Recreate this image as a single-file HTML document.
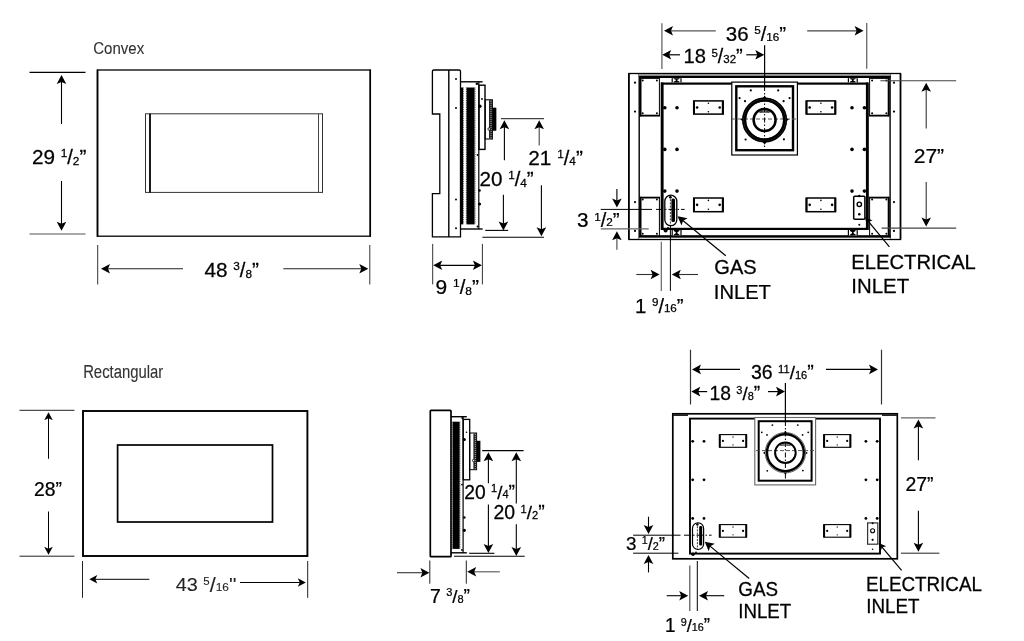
<!DOCTYPE html>
<html lang="en">
<head>
<meta charset="utf-8">
<title>Fireplace dimensions - Convex and Rectangular</title>
<style>
html,body{margin:0;padding:0;background:#fff;}
body{width:1024px;height:641px;overflow:hidden;}
svg{display:block;will-change:transform;}
text{white-space:pre;}
</style>
</head>
<body>
<svg width="1024" height="641" viewBox="0 0 1024 641" role="img" aria-label="Fireplace dimension drawings">
<rect x="0" y="0" width="1024" height="641" fill="#fff"/>
<g id="convex-front">
<text transform="translate(93.24 53.90) scale(1.0152 1.17)" font-size="14.8" fill="#333" stroke="#333" stroke-width="0.1" style="font-family:'Liberation Sans', sans-serif">Convex</text>
<rect x="97.50" y="70.00" width="272.70" height="166.20" fill="none" stroke="#000" stroke-width="1.3"/>
<line x1="97.50" y1="69.60" x2="97.50" y2="236.80" stroke="#000" stroke-width="1.7"/>
<line x1="370.30" y1="69.60" x2="370.30" y2="236.80" stroke="#000" stroke-width="1.5"/>
<rect x="145.50" y="113.80" width="177.00" height="78.60" fill="none" stroke="#333" stroke-width="1.0"/>
<line x1="150.00" y1="113.80" x2="150.00" y2="192.40" stroke="#000" stroke-width="1.8"/>
<line x1="318.50" y1="113.80" x2="318.50" y2="192.40" stroke="#444" stroke-width="1.0"/>
<line x1="29.50" y1="72.40" x2="85.50" y2="72.40" stroke="#000" stroke-width="1.1"/>
<line x1="29.50" y1="234.00" x2="85.50" y2="234.00" stroke="#555" stroke-width="1.1"/>
<line x1="61.50" y1="124.00" x2="61.50" y2="79.00" stroke="#000" stroke-width="1.1"/>
<path d="M61.50 75.00L66.30 84.00L61.50 82.00L56.70 84.00Z" fill="#000"/>
<line x1="61.50" y1="181.00" x2="61.50" y2="226.80" stroke="#000" stroke-width="1.1"/>
<path d="M61.50 230.80L56.70 221.80L61.50 223.80L66.30 221.80Z" fill="#000"/>
<text transform="translate(31.88 164.10) scale(1.0164 1.0)" font-size="20.4" fill="#000" stroke="#000" stroke-width="0.25" style="font-family:'Liberation Sans', sans-serif">29 <tspan font-size="11.63" dy="-6.73">1</tspan><tspan font-size="19.79" dy="6.73">/</tspan><tspan font-size="11.63" dy="0.61">2</tspan><tspan font-size="20.4" dy="-0.61">”</tspan></text>
<line x1="97.70" y1="245.00" x2="97.70" y2="284.50" stroke="#333" stroke-width="1.0"/>
<line x1="369.80" y1="245.00" x2="369.80" y2="284.50" stroke="#333" stroke-width="1.0"/>
<line x1="183.00" y1="268.80" x2="105.00" y2="268.80" stroke="#222" stroke-width="1.1"/>
<path d="M101.00 268.80L110.00 264.00L108.00 268.80L110.00 273.60Z" fill="#000"/>
<line x1="283.30" y1="268.80" x2="364.30" y2="268.80" stroke="#222" stroke-width="1.1"/>
<path d="M368.30 268.80L359.30 273.60L361.30 268.80L359.30 264.00Z" fill="#000"/>
<text transform="translate(204.39 276.80) scale(1.0182 1.0)" font-size="20.4" fill="#000" stroke="#000" stroke-width="0.25" style="font-family:'Liberation Sans', sans-serif">48 <tspan font-size="11.63" dy="-6.73">3</tspan><tspan font-size="19.79" dy="6.73">/</tspan><tspan font-size="11.63" dy="1.02">8</tspan><tspan font-size="20.4" dy="-1.02">”</tspan></text>
</g>
<g id="convex-side">
<path d="M433.9 70 H459 Q460.5 70 460.5 71.5 V236.9 H432.4 V193.6 H439.8 V114 H432.4 V71.5 Q432.4 70 433.9 70 Z" fill="none" stroke="#000" stroke-width="1.3"/>
<line x1="448.80" y1="70.00" x2="448.80" y2="236.90" stroke="#000" stroke-width="1.4"/>
<circle cx="456.00" cy="79.00" r="1.0" fill="#000"/>
<circle cx="456.00" cy="108.00" r="1.0" fill="#000"/>
<circle cx="456.00" cy="199.40" r="1.0" fill="#000"/>
<circle cx="456.00" cy="228.30" r="1.0" fill="#000"/>
<line x1="460.50" y1="81.80" x2="482.60" y2="81.80" stroke="#000" stroke-width="1.4"/>
<line x1="460.50" y1="229.00" x2="482.60" y2="229.00" stroke="#000" stroke-width="1.4"/>
<line x1="478.80" y1="81.80" x2="478.80" y2="229.00" stroke="#000" stroke-width="1.2"/>
<rect x="460.60" y="87.50" width="2.50" height="136.90" fill="#000"/>
<line x1="463.50" y1="87.50" x2="463.50" y2="224.40" stroke="#222" stroke-width="0.7" stroke-dasharray="0.9 0.9"/>
<line x1="466.40" y1="87.50" x2="466.40" y2="224.40" stroke="#000" stroke-width="0.8" stroke-dasharray="0.9 0.9"/>
<line x1="475.20" y1="87.50" x2="475.20" y2="224.40" stroke="#000" stroke-width="0.6" stroke-dasharray="0.9 0.9"/>
<rect x="466.60" y="87.50" width="8.00" height="136.90" fill="#000"/>
<circle cx="476.90" cy="83.70" r="1.3" fill="#000"/>
<circle cx="477.50" cy="155.00" r="0.9" fill="#000"/>
<circle cx="477.50" cy="226.50" r="0.9" fill="#000"/>
<circle cx="479.90" cy="106.20" r="1.7" fill="#000"/>
<circle cx="479.50" cy="190.50" r="1.3" fill="#000"/>
<circle cx="479.50" cy="204.00" r="1.6" fill="#000"/>
<rect x="479.00" y="85.20" width="6.00" height="64.20" fill="none" stroke="#000" stroke-width="1.4"/>
<circle cx="482.00" cy="99.00" r="0.9" fill="#000"/>
<rect x="485.20" y="99.80" width="7.20" height="39.20" fill="none" stroke="#000" stroke-width="1.1"/>
<rect x="489.40" y="107.80" width="6.80" height="22.70" fill="#000"/>
<rect x="489.00" y="100.20" width="3.60" height="38.40" fill="#222"/>
<line x1="491.00" y1="101.00" x2="491.00" y2="138.00" stroke="#ccc" stroke-width="1.0" stroke-dasharray="0.8 1.2"/>
<rect x="492.60" y="107.80" width="3.60" height="22.70" fill="#000"/>
<circle cx="489.20" cy="129.00" r="1.3" fill="#fff" stroke="#000" stroke-width="0.8"/>
<line x1="501.00" y1="118.70" x2="544.00" y2="118.70" stroke="#444" stroke-width="1.2"/>
<line x1="504.40" y1="160.30" x2="504.40" y2="124.30" stroke="#000" stroke-width="1.1"/>
<path d="M504.40 120.30L509.20 129.30L504.40 127.30L499.60 129.30Z" fill="#000"/>
<line x1="539.20" y1="145.50" x2="539.20" y2="124.30" stroke="#444" stroke-width="1.1"/>
<path d="M539.20 120.30L544.00 129.30L539.20 127.30L534.40 129.30Z" fill="#000"/>
<line x1="503.40" y1="194.70" x2="503.40" y2="226.60" stroke="#000" stroke-width="1.1"/>
<path d="M503.40 230.60L498.60 221.60L503.40 223.60L508.20 221.60Z" fill="#000"/>
<line x1="541.40" y1="185.30" x2="541.40" y2="232.20" stroke="#000" stroke-width="1.1"/>
<path d="M541.40 236.20L536.60 227.20L541.40 229.20L546.20 227.20Z" fill="#000"/>
<line x1="485.20" y1="230.40" x2="508.20" y2="230.40" stroke="#000" stroke-width="1.1"/>
<line x1="482.40" y1="237.30" x2="544.00" y2="237.30" stroke="#000" stroke-width="1.1"/>
<text transform="translate(479.39 186.10) scale(1.0145 1.0)" font-size="20.4" fill="#000" stroke="#000" stroke-width="0.25" style="font-family:'Liberation Sans', sans-serif">20 <tspan font-size="11.63" dy="-6.73">1</tspan><tspan font-size="19.79" dy="6.73">/</tspan><tspan font-size="11.63" dy="0.41">4</tspan><tspan font-size="20.4" dy="-0.41">”</tspan></text>
<text transform="translate(528.28 164.50) scale(1.0184 1.0)" font-size="20.4" fill="#000" stroke="#000" stroke-width="0.25" style="font-family:'Liberation Sans', sans-serif">21 <tspan font-size="11.63" dy="-6.73">1</tspan><tspan font-size="19.79" dy="6.73">/</tspan><tspan font-size="11.63" dy="0.41">4</tspan><tspan font-size="20.4" dy="-0.41">”</tspan></text>
<line x1="432.70" y1="243.90" x2="432.70" y2="284.40" stroke="#333" stroke-width="1.0"/>
<line x1="482.40" y1="243.90" x2="482.40" y2="284.40" stroke="#333" stroke-width="1.0"/>
<line x1="436.00" y1="265.30" x2="479.00" y2="265.30" stroke="#000" stroke-width="1.2"/>
<path d="M433.20 265.30L442.20 260.50L440.20 265.30L442.20 270.10Z" fill="#000"/>
<path d="M481.90 265.30L472.90 270.10L474.90 265.30L472.90 260.50Z" fill="#000"/>
<text transform="translate(435.57 293.70) scale(1.0272 1.0)" font-size="20.4" fill="#000" stroke="#000" stroke-width="0.25" style="font-family:'Liberation Sans', sans-serif">9 <tspan font-size="11.63" dy="-6.73">1</tspan><tspan font-size="19.79" dy="6.73">/</tspan><tspan font-size="11.63" dy="1.22">8</tspan><tspan font-size="20.4" dy="-1.22">”</tspan></text>
</g>
<g id="convex-back">
<rect x="628.85" y="73.50" width="271.65" height="166.00" fill="none" stroke="#000" stroke-width="1.3"/>
<line x1="628.85" y1="73.50" x2="628.85" y2="239.50" stroke="#000" stroke-width="1.6"/>
<line x1="900.50" y1="73.50" x2="900.50" y2="239.50" stroke="#000" stroke-width="1.6"/>
<line x1="639.20" y1="73.50" x2="639.20" y2="239.50" stroke="#000" stroke-width="1.4"/>
<line x1="890.10" y1="73.50" x2="890.10" y2="239.50" stroke="#000" stroke-width="1.4"/>
<rect x="638.90" y="74.00" width="251.60" height="2.00" fill="#999"/>
<rect x="638.90" y="75.90" width="251.60" height="2.10" fill="#000"/>
<rect x="638.90" y="235.20" width="251.60" height="2.60" fill="#000"/>
<rect x="638.90" y="237.80" width="251.60" height="1.10" fill="#ddd"/>
<rect x="640.20" y="78.40" width="19.20" height="37.20" fill="none" stroke="#000" stroke-width="1.0"/>
<circle cx="642.70" cy="80.40" r="1.0" fill="#000"/>
<circle cx="642.70" cy="113.20" r="1.0" fill="#000"/>
<circle cx="656.90" cy="80.40" r="1.0" fill="#000"/>
<circle cx="656.90" cy="113.20" r="1.0" fill="#000"/>
<rect x="640.20" y="197.50" width="19.20" height="38.70" fill="none" stroke="#000" stroke-width="1.0"/>
<circle cx="642.70" cy="199.50" r="1.0" fill="#000"/>
<circle cx="642.70" cy="233.80" r="1.0" fill="#000"/>
<circle cx="656.90" cy="199.50" r="1.0" fill="#000"/>
<circle cx="656.90" cy="233.80" r="1.0" fill="#000"/>
<rect x="869.60" y="78.40" width="19.30" height="37.20" fill="none" stroke="#000" stroke-width="1.0"/>
<circle cx="872.10" cy="80.40" r="1.0" fill="#000"/>
<circle cx="872.10" cy="113.20" r="1.0" fill="#000"/>
<circle cx="886.40" cy="80.40" r="1.0" fill="#000"/>
<circle cx="886.40" cy="113.20" r="1.0" fill="#000"/>
<rect x="869.60" y="197.50" width="19.30" height="38.70" fill="none" stroke="#000" stroke-width="1.0"/>
<circle cx="872.10" cy="199.50" r="1.0" fill="#000"/>
<circle cx="872.10" cy="233.80" r="1.0" fill="#000"/>
<circle cx="886.40" cy="199.50" r="1.0" fill="#000"/>
<circle cx="886.40" cy="233.80" r="1.0" fill="#000"/>
<line x1="640.60" y1="78.00" x2="640.60" y2="116.40" stroke="#000" stroke-width="1.8"/>
<line x1="888.60" y1="78.00" x2="888.60" y2="116.40" stroke="#000" stroke-width="1.8"/>
<line x1="640.60" y1="196.80" x2="640.60" y2="236.00" stroke="#000" stroke-width="1.8"/>
<line x1="888.60" y1="196.80" x2="888.60" y2="236.00" stroke="#000" stroke-width="1.8"/>
<line x1="640.00" y1="115.60" x2="660.00" y2="115.60" stroke="#000" stroke-width="1.8"/>
<line x1="869.00" y1="115.60" x2="889.00" y2="115.60" stroke="#000" stroke-width="1.8"/>
<line x1="640.00" y1="197.60" x2="660.00" y2="197.60" stroke="#000" stroke-width="1.8"/>
<line x1="869.00" y1="197.60" x2="889.00" y2="197.60" stroke="#000" stroke-width="1.8"/>
<circle cx="635.00" cy="82.70" r="1.1" fill="#000"/>
<circle cx="635.00" cy="111.60" r="1.1" fill="#000"/>
<circle cx="635.00" cy="202.10" r="1.1" fill="#000"/>
<circle cx="635.00" cy="230.90" r="1.1" fill="#000"/>
<circle cx="894.00" cy="82.70" r="1.1" fill="#000"/>
<circle cx="894.00" cy="111.60" r="1.1" fill="#000"/>
<circle cx="894.00" cy="202.10" r="1.1" fill="#000"/>
<circle cx="894.00" cy="230.90" r="1.1" fill="#000"/>
<rect x="662.10" y="83.60" width="205.20" height="145.30" fill="none" stroke="#000" stroke-width="2.2"/>
<line x1="662.10" y1="82.50" x2="662.10" y2="230.00" stroke="#000" stroke-width="2.8"/>
<line x1="867.30" y1="82.50" x2="867.30" y2="230.00" stroke="#000" stroke-width="2.8"/>
<rect x="671.60" y="78.20" width="10.00" height="4.20" fill="#000"/>
<rect x="672.80" y="78.20" width="7.60" height="4.20" fill="#fff"/>
<path d="M673.80 78.20 L679.40 78.20 L679.40 79.10 L677.40 79.80 L677.40 80.80 L679.40 81.50 L679.40 82.40 L673.80 82.40 L673.80 81.50 L675.80 80.80 L675.80 79.80 L673.80 79.10 Z" fill="#000"/>
<rect x="847.80" y="78.20" width="10.00" height="4.20" fill="#000"/>
<rect x="849.00" y="78.20" width="7.60" height="4.20" fill="#fff"/>
<path d="M850.00 78.20 L855.60 78.20 L855.60 79.10 L853.60 79.80 L853.60 80.80 L855.60 81.50 L855.60 82.40 L850.00 82.40 L850.00 81.50 L852.00 80.80 L852.00 79.80 L850.00 79.10 Z" fill="#000"/>
<rect x="671.60" y="230.00" width="10.00" height="5.40" fill="#000"/>
<rect x="672.80" y="230.00" width="7.60" height="5.40" fill="#fff"/>
<path d="M673.80 230.00 L679.40 230.00 L679.40 230.90 L677.40 232.20 L677.40 233.20 L679.40 234.50 L679.40 235.40 L673.80 235.40 L673.80 234.50 L675.80 233.20 L675.80 232.20 L673.80 230.90 Z" fill="#000"/>
<rect x="847.80" y="230.00" width="10.00" height="5.40" fill="#000"/>
<rect x="849.00" y="230.00" width="7.60" height="5.40" fill="#fff"/>
<path d="M850.00 230.00 L855.60 230.00 L855.60 230.90 L853.60 232.20 L853.60 233.20 L855.60 234.50 L855.60 235.40 L850.00 235.40 L850.00 234.50 L852.00 233.20 L852.00 232.20 L850.00 230.90 Z" fill="#000"/>
<circle cx="664.80" cy="107.80" r="1.8" fill="#000"/>
<circle cx="677.00" cy="107.80" r="1.8" fill="#000"/>
<circle cx="852.00" cy="107.80" r="1.8" fill="#000"/>
<circle cx="864.40" cy="107.80" r="1.8" fill="#000"/>
<circle cx="664.80" cy="149.40" r="1.8" fill="#000"/>
<circle cx="677.00" cy="149.40" r="1.8" fill="#000"/>
<circle cx="852.00" cy="149.40" r="1.8" fill="#000"/>
<circle cx="864.40" cy="149.40" r="1.8" fill="#000"/>
<circle cx="664.80" cy="191.10" r="1.8" fill="#000"/>
<circle cx="677.00" cy="191.10" r="1.8" fill="#000"/>
<circle cx="852.00" cy="191.10" r="1.8" fill="#000"/>
<circle cx="864.40" cy="191.10" r="1.8" fill="#000"/>
<rect x="693.70" y="100.90" width="29.40" height="13.20" fill="none" stroke="#000" stroke-width="1.5"/>
<line x1="694.00" y1="100.90" x2="694.00" y2="114.10" stroke="#000" stroke-width="2.0"/>
<line x1="722.80" y1="100.90" x2="722.80" y2="114.10" stroke="#000" stroke-width="2.0"/>
<circle cx="697.10" cy="107.50" r="1.3" fill="#000"/>
<circle cx="719.70" cy="107.50" r="1.3" fill="#000"/>
<circle cx="708.40" cy="103.30" r="0.8" fill="#000"/>
<circle cx="708.40" cy="111.70" r="0.8" fill="#000"/>
<rect x="693.70" y="198.00" width="29.40" height="13.70" fill="none" stroke="#000" stroke-width="1.5"/>
<line x1="694.00" y1="198.00" x2="694.00" y2="211.70" stroke="#000" stroke-width="2.0"/>
<line x1="722.80" y1="198.00" x2="722.80" y2="211.70" stroke="#000" stroke-width="2.0"/>
<circle cx="697.10" cy="204.85" r="1.3" fill="#000"/>
<circle cx="719.70" cy="204.85" r="1.3" fill="#000"/>
<circle cx="708.40" cy="200.40" r="0.8" fill="#000"/>
<circle cx="708.40" cy="209.30" r="0.8" fill="#000"/>
<rect x="806.30" y="100.90" width="29.20" height="13.20" fill="none" stroke="#000" stroke-width="1.5"/>
<line x1="806.60" y1="100.90" x2="806.60" y2="114.10" stroke="#000" stroke-width="2.0"/>
<line x1="835.20" y1="100.90" x2="835.20" y2="114.10" stroke="#000" stroke-width="2.0"/>
<circle cx="809.70" cy="107.50" r="1.3" fill="#000"/>
<circle cx="832.10" cy="107.50" r="1.3" fill="#000"/>
<circle cx="820.90" cy="103.30" r="0.8" fill="#000"/>
<circle cx="820.90" cy="111.70" r="0.8" fill="#000"/>
<rect x="806.30" y="198.00" width="29.20" height="13.70" fill="none" stroke="#000" stroke-width="1.5"/>
<line x1="806.60" y1="198.00" x2="806.60" y2="211.70" stroke="#000" stroke-width="2.0"/>
<line x1="835.20" y1="198.00" x2="835.20" y2="211.70" stroke="#000" stroke-width="2.0"/>
<circle cx="809.70" cy="204.85" r="1.3" fill="#000"/>
<circle cx="832.10" cy="204.85" r="1.3" fill="#000"/>
<circle cx="820.90" cy="200.40" r="0.8" fill="#000"/>
<circle cx="820.90" cy="209.30" r="0.8" fill="#000"/>
<rect x="731.80" y="82.10" width="65.60" height="72.90" fill="#fff" stroke="#000" stroke-width="1.2"/>
<rect x="736.30" y="86.30" width="56.70" height="63.90" fill="none" stroke="#000" stroke-width="2.4"/>
<line x1="732.00" y1="119.00" x2="797.00" y2="119.00" stroke="#555" stroke-width="1.0" stroke-dasharray="4 2"/>
<circle cx="764.60" cy="120.00" r="20.4" fill="none" stroke="#444" stroke-width="4.2"/>
<circle cx="764.60" cy="120.00" r="21.7" fill="none" stroke="#000" stroke-width="1.4"/>
<circle cx="764.60" cy="120.00" r="19.6" fill="none" stroke="#000" stroke-width="2.2"/>
<circle cx="764.60" cy="120.00" r="11.0" fill="none" stroke="#000" stroke-width="2.5"/>
<line x1="764.60" y1="86.00" x2="764.60" y2="151.00" stroke="#000" stroke-width="1.0" stroke-dasharray="5 2 1.5 2"/>
<path d="M740.40 119.60L742.80 117.90L742.80 119.60L742.80 121.30Z" fill="#000"/>
<path d="M788.80 119.60L786.40 121.30L786.40 119.60L786.40 117.90Z" fill="#000"/>
<path d="M764.60 95.40L766.40 98.20L764.60 98.20L762.80 98.20Z" fill="#000"/>
<path d="M764.60 144.80L762.80 142.00L764.60 142.00L766.40 142.00Z" fill="#000"/>
<path d="M759.6 112.2 Q764.5 109.2 769.4 112.2 Z" fill="none" stroke="#000" stroke-width="0.8"/>
<circle cx="750.80" cy="90.40" r="1.1" fill="#000"/>
<circle cx="778.20" cy="90.40" r="1.1" fill="#000"/>
<circle cx="739.60" cy="98.10" r="1.1" fill="#000"/>
<circle cx="789.60" cy="98.10" r="1.1" fill="#000"/>
<circle cx="745.00" cy="101.20" r="1.1" fill="#000"/>
<circle cx="783.60" cy="101.20" r="1.1" fill="#000"/>
<circle cx="745.60" cy="139.50" r="1.1" fill="#000"/>
<circle cx="783.90" cy="139.30" r="1.1" fill="#000"/>
<line x1="764.60" y1="45.30" x2="764.60" y2="87.00" stroke="#000" stroke-width="1.2"/>
<circle cx="665.60" cy="230.60" r="2.0" fill="#000"/>
<circle cx="668.00" cy="228.00" r="1.0" fill="#000"/>
<rect x="664.80" y="195.20" width="12.00" height="30.50" fill="none" stroke="#000" stroke-width="1.3" rx="6"/>
<rect x="671.40" y="198.60" width="3.60" height="23.40" fill="#000" rx="1.5"/>
<line x1="670.40" y1="196.00" x2="670.40" y2="225.00" stroke="#222" stroke-width="0.9" stroke-dasharray="2 1.2"/>
<circle cx="670.40" cy="197.30" r="1.4" fill="#000"/>
<rect x="853.70" y="196.30" width="11.20" height="23.00" fill="none" stroke="#000" stroke-width="1.5" rx="1"/>
<circle cx="859.30" cy="204.30" r="2.2" fill="none" stroke="#000" stroke-width="1.4"/>
<circle cx="859.30" cy="214.20" r="1.3" fill="#000"/>
<circle cx="859.30" cy="196.00" r="1.2" fill="#000"/>
<circle cx="859.30" cy="224.70" r="1.0" fill="#000"/>
<line x1="661.90" y1="23.30" x2="661.90" y2="69.00" stroke="#666" stroke-width="1.3"/>
<line x1="866.70" y1="23.10" x2="866.70" y2="68.80" stroke="#666" stroke-width="1.3"/>
<line x1="715.80" y1="30.80" x2="668.00" y2="30.80" stroke="#555" stroke-width="1.2"/>
<path d="M664.00 30.80L673.00 26.00L671.00 30.80L673.00 35.60Z" fill="#000"/>
<line x1="807.20" y1="30.80" x2="859.60" y2="30.80" stroke="#444" stroke-width="1.2"/>
<path d="M863.60 30.80L854.60 35.60L856.60 30.80L854.60 26.00Z" fill="#000"/>
<text transform="translate(725.75 41.20) scale(1.0051 1.0)" font-size="20.4" fill="#000" stroke="#000" stroke-width="0.25" style="font-family:'Liberation Sans', sans-serif">36 <tspan font-size="11.63" dy="-6.73">5</tspan><tspan font-size="19.79" dy="6.73">/</tspan><tspan font-size="11.63" dy="-0.41">16</tspan><tspan font-size="20.4" dy="0.41">”</tspan></text>
<line x1="680.00" y1="54.80" x2="666.20" y2="54.80" stroke="#000" stroke-width="1.2"/>
<path d="M662.20 54.80L671.20 50.00L669.20 54.80L671.20 59.60Z" fill="#000"/>
<line x1="746.30" y1="54.80" x2="760.30" y2="54.80" stroke="#000" stroke-width="1.2"/>
<path d="M764.30 54.80L755.30 59.60L757.30 54.80L755.30 50.00Z" fill="#000"/>
<text transform="translate(683.42 63.40) scale(0.9887 1.0)" font-size="20.4" fill="#000" stroke="#000" stroke-width="0.25" style="font-family:'Liberation Sans', sans-serif">18 <tspan font-size="11.63" dy="-6.73">5</tspan><tspan font-size="19.79" dy="6.73">/</tspan><tspan font-size="11.63" dy="-0.2">32</tspan><tspan font-size="20.4" dy="0.2">”</tspan></text>
<line x1="880.40" y1="80.80" x2="956.20" y2="80.80" stroke="#444" stroke-width="1.1"/>
<line x1="881.60" y1="228.10" x2="956.20" y2="228.10" stroke="#444" stroke-width="1.1"/>
<line x1="926.20" y1="128.40" x2="926.20" y2="86.80" stroke="#333" stroke-width="1.1"/>
<path d="M926.20 82.80L931.00 91.80L926.20 89.80L921.40 91.80Z" fill="#000"/>
<line x1="926.20" y1="182.00" x2="926.20" y2="222.60" stroke="#333" stroke-width="1.1"/>
<path d="M926.20 226.60L921.40 217.60L926.20 219.60L931.00 217.60Z" fill="#000"/>
<text transform="translate(913.68 163.40) scale(1.0214 1.0)" font-size="20.6" fill="#000" stroke="#000" stroke-width="0.25" style="font-family:'Liberation Sans', sans-serif">27”</text>
<line x1="600.70" y1="209.40" x2="652.00" y2="209.40" stroke="#000" stroke-width="1.0"/>
<line x1="656.00" y1="209.40" x2="684.60" y2="209.40" stroke="#000" stroke-width="1.0" stroke-dasharray="7 2 1.5 2"/>
<line x1="600.70" y1="228.90" x2="648.70" y2="228.90" stroke="#666" stroke-width="1.1"/>
<line x1="616.90" y1="189.00" x2="616.90" y2="203.60" stroke="#000" stroke-width="1.1"/>
<path d="M616.90 207.60L612.10 198.60L616.90 200.60L621.70 198.60Z" fill="#000"/>
<line x1="616.90" y1="249.70" x2="616.90" y2="235.20" stroke="#444" stroke-width="1.1"/>
<path d="M616.90 231.20L621.70 240.20L616.90 238.20L612.10 240.20Z" fill="#000"/>
<text transform="translate(576.94 227.30) scale(1.0110 1.0)" font-size="20.4" fill="#000" stroke="#000" stroke-width="0.25" style="font-family:'Liberation Sans', sans-serif">3 <tspan font-size="11.63" dy="-6.73">1</tspan><tspan font-size="19.79" dy="6.73">/</tspan><tspan font-size="11.63" dy="-0.82">2</tspan><tspan font-size="20.4" dy="0.82">”</tspan></text>
<line x1="661.30" y1="241.70" x2="661.30" y2="290.90" stroke="#666" stroke-width="1.2"/>
<line x1="670.40" y1="226.00" x2="670.40" y2="290.90" stroke="#000" stroke-width="1.0"/>
<line x1="636.30" y1="274.50" x2="655.60" y2="274.50" stroke="#333" stroke-width="1.1"/>
<path d="M659.60 274.50L650.60 279.30L652.60 274.50L650.60 269.70Z" fill="#000"/>
<line x1="698.00" y1="274.50" x2="675.80" y2="274.50" stroke="#333" stroke-width="1.1"/>
<path d="M671.80 274.50L680.80 269.70L678.80 274.50L680.80 279.30Z" fill="#000"/>
<text transform="translate(634.90 313.10) scale(1.0000 1.0)" font-size="20.4" fill="#000" stroke="#000" stroke-width="0.25" style="font-family:'Liberation Sans', sans-serif">1 <tspan font-size="11.63" dy="-6.73">9</tspan><tspan font-size="19.79" dy="6.73">/</tspan><tspan font-size="11.63" dy="-1.43">16</tspan><tspan font-size="20.4" dy="1.43">”</tspan></text>
<line x1="725.80" y1="255.80" x2="680.69" y2="218.74" stroke="#000" stroke-width="1.2"/>
<path d="M677.60 216.20L687.60 218.20L683.01 220.64L681.51 225.62Z" fill="#000"/>
<text transform="translate(714.32 274.10) scale(0.9829 1.0)" font-size="20.4" fill="#000" stroke="#000" stroke-width="0.25" style="font-family:'Liberation Sans', sans-serif">GAS</text>
<text transform="translate(713.82 298.90) scale(0.9882 1.0)" font-size="20.4" fill="#000" stroke="#000" stroke-width="0.25" style="font-family:'Liberation Sans', sans-serif">INLET</text>
<line x1="889.40" y1="246.90" x2="867.54" y2="220.29" stroke="#000" stroke-width="1.2"/>
<path d="M865.00 217.20L872.66 220.61L868.49 221.45L866.86 225.38Z" fill="#000"/>
<text transform="translate(851.36 268.90) scale(0.9947 1.0)" font-size="20.3" fill="#000" stroke="#000" stroke-width="0.25" style="font-family:'Liberation Sans', sans-serif">ELECTRICAL</text>
<text transform="translate(851.34 293.10) scale(1.0045 1.0)" font-size="20.3" fill="#000" stroke="#000" stroke-width="0.25" style="font-family:'Liberation Sans', sans-serif">INLET</text>
</g>
<g id="rect-front">
<text transform="translate(83.14 377.50) scale(1.0045 1.18)" font-size="14.8" fill="#333" stroke="#333" stroke-width="0.1" style="font-family:'Liberation Sans', sans-serif">Rectangular</text>
<rect x="83.00" y="411.00" width="224.40" height="145.00" fill="none" stroke="#000" stroke-width="1.9"/>
<rect x="117.60" y="445.00" width="154.90" height="77.00" fill="none" stroke="#000" stroke-width="1.7"/>
<line x1="19.50" y1="410.30" x2="74.50" y2="410.30" stroke="#222" stroke-width="1.0"/>
<line x1="19.50" y1="556.20" x2="74.50" y2="556.20" stroke="#222" stroke-width="1.0"/>
<line x1="48.50" y1="458.80" x2="48.50" y2="416.20" stroke="#000" stroke-width="1.0"/>
<path d="M48.50 412.20L52.80 420.20L48.50 418.20L44.20 420.20Z" fill="#000"/>
<line x1="48.50" y1="511.50" x2="48.50" y2="550.80" stroke="#000" stroke-width="1.0"/>
<path d="M48.50 554.80L44.20 546.80L48.50 548.80L52.80 546.80Z" fill="#000"/>
<text transform="translate(34.10 496.10) scale(1.0019 1.0)" font-size="19.3" fill="#000" stroke="#000" stroke-width="0.25" style="font-family:'Liberation Sans', sans-serif">28”</text>
<line x1="82.50" y1="561.00" x2="82.50" y2="597.80" stroke="#222" stroke-width="1.0"/>
<line x1="307.70" y1="561.00" x2="307.70" y2="597.80" stroke="#222" stroke-width="1.0"/>
<line x1="149.30" y1="579.30" x2="93.30" y2="579.30" stroke="#000" stroke-width="1.0"/>
<path d="M89.30 579.30L97.30 575.00L95.30 579.30L97.30 583.60Z" fill="#000"/>
<line x1="240.00" y1="582.50" x2="301.80" y2="582.50" stroke="#000" stroke-width="1.0"/>
<path d="M305.80 582.50L297.80 586.80L299.80 582.50L297.80 578.20Z" fill="#000"/>
<text transform="translate(175.75 591.00) scale(1.1014 1.0)" font-size="18.0" fill="#222" stroke="#222" stroke-width="0.1" style="font-family:'Liberation Sans', sans-serif">43 <tspan font-size="10.4" dy="-5.7">5</tspan><tspan font-size="19.6" dy="7.1">/</tspan><tspan font-size="10.8" dy="-1.4">16</tspan><tspan font-size="18" dy="0">''</tspan></text>
</g>
<g id="rect-side">
<rect x="430.30" y="410.30" width="20.70" height="146.40" fill="none" stroke="#000" stroke-width="1.7" rx="0.7"/>
<line x1="451.00" y1="416.70" x2="466.80" y2="416.70" stroke="#000" stroke-width="1.4"/>
<line x1="451.00" y1="552.80" x2="466.80" y2="552.80" stroke="#000" stroke-width="1.4"/>
<line x1="463.10" y1="416.70" x2="463.10" y2="552.80" stroke="#000" stroke-width="1.2"/>
<rect x="452.60" y="421.70" width="7.00" height="127.20" fill="#000"/>
<line x1="452.00" y1="421.70" x2="452.00" y2="548.90" stroke="#000" stroke-width="0.8" stroke-dasharray="0.9 0.9"/>
<line x1="460.00" y1="421.70" x2="460.00" y2="548.90" stroke="#000" stroke-width="0.6" stroke-dasharray="0.9 0.9"/>
<circle cx="462.20" cy="418.00" r="0.9" fill="#000"/>
<circle cx="462.00" cy="484.60" r="0.9" fill="#000"/>
<circle cx="462.00" cy="550.00" r="0.9" fill="#000"/>
<circle cx="464.30" cy="439.50" r="1.6" fill="#000"/>
<circle cx="464.30" cy="517.50" r="1.3" fill="#000"/>
<circle cx="464.30" cy="530.30" r="1.6" fill="#000"/>
<rect x="463.20" y="419.40" width="6.50" height="60.40" fill="none" stroke="#000" stroke-width="1.3"/>
<circle cx="466.50" cy="432.20" r="0.8" fill="#000"/>
<rect x="469.70" y="433.00" width="6.90" height="36.70" fill="none" stroke="#000" stroke-width="1.0"/>
<rect x="473.40" y="433.40" width="3.40" height="36.00" fill="#222"/>
<line x1="475.30" y1="434.00" x2="475.30" y2="469.00" stroke="#ccc" stroke-width="1.0" stroke-dasharray="0.8 1.2"/>
<rect x="476.60" y="440.80" width="3.80" height="21.10" fill="#000"/>
<circle cx="473.60" cy="460.50" r="1.2" fill="#fff" stroke="#000" stroke-width="0.8"/>
<line x1="482.20" y1="450.60" x2="523.60" y2="450.60" stroke="#000" stroke-width="1.1"/>
<line x1="488.40" y1="483.30" x2="488.40" y2="456.20" stroke="#000" stroke-width="1.1"/>
<path d="M488.40 452.20L493.20 461.20L488.40 459.20L483.60 461.20Z" fill="#000"/>
<line x1="516.30" y1="503.60" x2="516.30" y2="456.20" stroke="#000" stroke-width="1.1"/>
<path d="M516.30 452.20L521.10 461.20L516.30 459.20L511.50 461.20Z" fill="#000"/>
<line x1="488.40" y1="504.40" x2="488.40" y2="549.00" stroke="#000" stroke-width="1.1"/>
<path d="M488.40 553.00L483.60 544.00L488.40 546.00L493.20 544.00Z" fill="#000"/>
<line x1="516.30" y1="524.20" x2="516.30" y2="552.00" stroke="#000" stroke-width="1.1"/>
<path d="M516.30 556.00L511.50 547.00L516.30 549.00L521.10 547.00Z" fill="#000"/>
<line x1="469.20" y1="553.30" x2="494.40" y2="553.30" stroke="#000" stroke-width="1.1"/>
<line x1="454.00" y1="556.30" x2="524.70" y2="556.30" stroke="#000" stroke-width="1.1"/>
<text transform="translate(464.32 498.65) scale(0.9829 1.0)" font-size="19.6" fill="#000" stroke="#000" stroke-width="0.25" style="font-family:'Liberation Sans', sans-serif">20 <tspan font-size="11.17" dy="-6.47">1</tspan><tspan font-size="19.01" dy="6.47">/</tspan><tspan font-size="11.17" dy="-1.08">4</tspan><tspan font-size="19.6" dy="1.08">”</tspan></text>
<text transform="translate(493.41 519.05) scale(0.9950 1.0)" font-size="19.6" fill="#000" stroke="#000" stroke-width="0.25" style="font-family:'Liberation Sans', sans-serif">20 <tspan font-size="11.17" dy="-6.47">1</tspan><tspan font-size="19.01" dy="6.47">/</tspan><tspan font-size="11.17" dy="-0.39">2</tspan><tspan font-size="19.6" dy="0.39">”</tspan></text>
<line x1="429.80" y1="560.50" x2="429.80" y2="583.70" stroke="#222" stroke-width="1.0"/>
<line x1="466.30" y1="560.50" x2="466.30" y2="583.70" stroke="#222" stroke-width="1.0"/>
<line x1="397.00" y1="572.70" x2="425.40" y2="572.70" stroke="#333" stroke-width="1.1"/>
<path d="M429.40 572.70L420.40 577.50L422.40 572.70L420.40 567.90Z" fill="#000"/>
<line x1="499.80" y1="571.80" x2="471.20" y2="571.80" stroke="#555" stroke-width="1.1"/>
<path d="M467.20 571.80L476.20 567.00L474.20 571.80L476.20 576.60Z" fill="#000"/>
<text transform="translate(430.01 602.95) scale(0.9858 1.0)" font-size="19.6" fill="#000" stroke="#000" stroke-width="0.25" style="font-family:'Liberation Sans', sans-serif">7 <tspan font-size="11.17" dy="-6.47">3</tspan><tspan font-size="19.01" dy="6.47">/</tspan><tspan font-size="11.17" dy="0.39">8</tspan><tspan font-size="19.6" dy="-0.39">”</tspan></text>
</g>
<g id="rect-back">
<rect x="672.80" y="413.80" width="224.50" height="145.00" fill="none" stroke="#000" stroke-width="1.7"/>
<rect x="673.00" y="414.20" width="15.00" height="1.80" fill="#222"/>
<rect x="882.00" y="414.20" width="15.00" height="1.80" fill="#222"/>
<rect x="690.00" y="418.60" width="190.00" height="135.00" fill="none" stroke="#000" stroke-width="1.9"/>
<circle cx="692.70" cy="441.30" r="1.4" fill="#000"/>
<circle cx="704.00" cy="441.30" r="1.4" fill="#000"/>
<circle cx="865.90" cy="441.30" r="1.4" fill="#000"/>
<circle cx="877.20" cy="441.30" r="1.4" fill="#000"/>
<circle cx="692.70" cy="479.80" r="1.4" fill="#000"/>
<circle cx="704.00" cy="479.80" r="1.4" fill="#000"/>
<circle cx="865.90" cy="479.80" r="1.4" fill="#000"/>
<circle cx="877.20" cy="479.80" r="1.4" fill="#000"/>
<circle cx="692.70" cy="518.40" r="1.4" fill="#000"/>
<circle cx="704.00" cy="518.40" r="1.4" fill="#000"/>
<circle cx="865.90" cy="518.40" r="1.4" fill="#000"/>
<circle cx="877.20" cy="518.40" r="1.4" fill="#000"/>
<rect x="719.50" y="434.60" width="27.00" height="12.70" fill="none" stroke="#000" stroke-width="1.1"/>
<line x1="719.80" y1="434.60" x2="719.80" y2="447.30" stroke="#000" stroke-width="2.0"/>
<line x1="746.20" y1="434.60" x2="746.20" y2="447.30" stroke="#000" stroke-width="2.0"/>
<circle cx="722.90" cy="440.95" r="1.1" fill="#000"/>
<circle cx="743.10" cy="440.95" r="1.1" fill="#000"/>
<circle cx="733.00" cy="437.00" r="0.6400000000000001" fill="#000"/>
<circle cx="733.00" cy="444.90" r="0.6400000000000001" fill="#000"/>
<rect x="719.50" y="524.60" width="27.00" height="12.60" fill="none" stroke="#000" stroke-width="1.1"/>
<line x1="719.80" y1="524.60" x2="719.80" y2="537.20" stroke="#000" stroke-width="2.0"/>
<line x1="746.20" y1="524.60" x2="746.20" y2="537.20" stroke="#000" stroke-width="2.0"/>
<circle cx="722.90" cy="530.90" r="1.1" fill="#000"/>
<circle cx="743.10" cy="530.90" r="1.1" fill="#000"/>
<circle cx="733.00" cy="527.00" r="0.6400000000000001" fill="#000"/>
<circle cx="733.00" cy="534.80" r="0.6400000000000001" fill="#000"/>
<rect x="823.80" y="434.60" width="26.80" height="12.70" fill="none" stroke="#000" stroke-width="1.1"/>
<line x1="824.10" y1="434.60" x2="824.10" y2="447.30" stroke="#000" stroke-width="2.0"/>
<line x1="850.30" y1="434.60" x2="850.30" y2="447.30" stroke="#000" stroke-width="2.0"/>
<circle cx="827.20" cy="440.95" r="1.1" fill="#000"/>
<circle cx="847.20" cy="440.95" r="1.1" fill="#000"/>
<circle cx="837.20" cy="437.00" r="0.6400000000000001" fill="#000"/>
<circle cx="837.20" cy="444.90" r="0.6400000000000001" fill="#000"/>
<rect x="823.80" y="524.60" width="26.80" height="12.60" fill="none" stroke="#000" stroke-width="1.1"/>
<line x1="824.10" y1="524.60" x2="824.10" y2="537.20" stroke="#000" stroke-width="2.0"/>
<line x1="850.30" y1="524.60" x2="850.30" y2="537.20" stroke="#000" stroke-width="2.0"/>
<circle cx="827.20" cy="530.90" r="1.1" fill="#000"/>
<circle cx="847.20" cy="530.90" r="1.1" fill="#000"/>
<circle cx="837.20" cy="527.00" r="0.6400000000000001" fill="#000"/>
<circle cx="837.20" cy="534.80" r="0.6400000000000001" fill="#000"/>
<rect x="754.80" y="417.50" width="60.80" height="67.40" fill="#fff" stroke="#666" stroke-width="1.1"/>
<rect x="758.70" y="421.20" width="52.90" height="59.50" fill="none" stroke="#000" stroke-width="2.0"/>
<line x1="756.00" y1="450.60" x2="815.00" y2="450.60" stroke="#444" stroke-width="0.9" stroke-dasharray="4 2"/>
<circle cx="785.40" cy="452.70" r="20.2" fill="none" stroke="#666" stroke-width="1.0"/>
<circle cx="785.40" cy="452.70" r="18.4" fill="none" stroke="#000" stroke-width="2.4"/>
<circle cx="785.40" cy="452.70" r="10.3" fill="none" stroke="#000" stroke-width="2.0"/>
<line x1="785.40" y1="421.00" x2="785.40" y2="481.00" stroke="#000" stroke-width="1.0" stroke-dasharray="5 2 1.5 2"/>
<path d="M785.40 430.40L786.90 432.80L785.40 432.80L783.90 432.80Z" fill="#000"/>
<path d="M785.40 475.00L783.90 472.60L785.40 472.60L786.90 472.60Z" fill="#000"/>
<path d="M763.00 452.90L765.00 451.60L765.00 452.90L765.00 454.20Z" fill="#000"/>
<path d="M807.80 452.90L805.80 454.20L805.80 452.90L805.80 451.60Z" fill="#000"/>
<path d="M780.4 445.4 Q785.4 442.6 790.4 445.4 Z" fill="none" stroke="#333" stroke-width="0.7"/>
<circle cx="772.40" cy="425.10" r="0.9" fill="#000"/>
<circle cx="797.80" cy="425.10" r="0.9" fill="#000"/>
<circle cx="761.80" cy="432.30" r="0.9" fill="#000"/>
<circle cx="808.20" cy="432.30" r="0.9" fill="#000"/>
<circle cx="767.00" cy="434.90" r="0.9" fill="#000"/>
<circle cx="802.60" cy="434.90" r="0.9" fill="#000"/>
<circle cx="767.30" cy="470.80" r="0.9" fill="#000"/>
<circle cx="802.90" cy="470.60" r="0.9" fill="#000"/>
<line x1="785.40" y1="383.00" x2="785.40" y2="421.50" stroke="#000" stroke-width="1.2"/>
<circle cx="693.00" cy="554.30" r="1.8" fill="#000"/>
<circle cx="696.00" cy="552.30" r="0.9" fill="#000"/>
<rect x="692.50" y="522.80" width="11.10" height="26.70" fill="none" stroke="#000" stroke-width="1.2" rx="5.5"/>
<rect x="699.20" y="526.00" width="3.00" height="19.50" fill="#000" rx="1.2"/>
<line x1="697.40" y1="523.00" x2="697.40" y2="549.00" stroke="#222" stroke-width="0.9" stroke-dasharray="2 1.2"/>
<circle cx="697.40" cy="524.60" r="1.2" fill="#000"/>
<rect x="867.60" y="522.90" width="10.20" height="21.30" fill="none" stroke="#333" stroke-width="1.2"/>
<circle cx="872.60" cy="530.70" r="2.0" fill="none" stroke="#000" stroke-width="1.1"/>
<circle cx="872.60" cy="539.80" r="1.1" fill="#000"/>
<circle cx="872.60" cy="523.20" r="1.0" fill="#000"/>
<circle cx="872.60" cy="549.20" r="0.8" fill="#000"/>
<line x1="690.50" y1="349.70" x2="690.50" y2="404.50" stroke="#333" stroke-width="1.2"/>
<line x1="881.50" y1="349.70" x2="881.50" y2="404.50" stroke="#333" stroke-width="1.2"/>
<line x1="740.00" y1="369.40" x2="696.00" y2="369.40" stroke="#000" stroke-width="1.2"/>
<path d="M692.00 369.40L701.00 364.60L699.00 369.40L701.00 374.20Z" fill="#000"/>
<line x1="826.00" y1="369.40" x2="874.00" y2="369.40" stroke="#000" stroke-width="1.2"/>
<path d="M878.00 369.40L869.00 374.20L871.00 369.40L869.00 364.60Z" fill="#000"/>
<text transform="translate(750.95 379.35) scale(0.9967 1.0)" font-size="19.6" fill="#000" stroke="#000" stroke-width="0.25" style="font-family:'Liberation Sans', sans-serif">36 <tspan font-size="11.17" dy="-6.47">11</tspan><tspan font-size="19.01" dy="6.47">/</tspan><tspan font-size="11.17" dy="-0.39">16</tspan><tspan font-size="19.6" dy="0.39">”</tspan></text>
<line x1="707.20" y1="391.60" x2="695.30" y2="391.60" stroke="#000" stroke-width="1.2"/>
<path d="M691.30 391.60L700.30 386.80L698.30 391.60L700.30 396.40Z" fill="#000"/>
<line x1="768.00" y1="391.60" x2="781.00" y2="391.60" stroke="#000" stroke-width="1.2"/>
<path d="M785.00 391.60L776.00 396.40L778.00 391.60L776.00 386.80Z" fill="#000"/>
<text transform="translate(709.52 400.45) scale(0.9848 1.0)" font-size="19.6" fill="#000" stroke="#000" stroke-width="0.25" style="font-family:'Liberation Sans', sans-serif">18 <tspan font-size="11.17" dy="-6.47">3</tspan><tspan font-size="19.01" dy="6.47">/</tspan><tspan font-size="11.17" dy="-0.2">8</tspan><tspan font-size="19.6" dy="0.2">”</tspan></text>
<line x1="901.00" y1="417.80" x2="935.50" y2="417.80" stroke="#666" stroke-width="1.2"/>
<line x1="901.00" y1="553.20" x2="939.40" y2="553.20" stroke="#222" stroke-width="1.0"/>
<line x1="918.40" y1="460.30" x2="918.40" y2="423.60" stroke="#000" stroke-width="1.1"/>
<path d="M918.40 419.60L923.20 428.60L918.40 426.60L913.60 428.60Z" fill="#000"/>
<line x1="918.40" y1="510.80" x2="918.40" y2="547.80" stroke="#000" stroke-width="1.1"/>
<path d="M918.40 551.80L913.60 542.80L918.40 544.80L923.20 542.80Z" fill="#000"/>
<text transform="translate(905.50 491.00) scale(1.0019 1.0)" font-size="19.4" fill="#000" stroke="#000" stroke-width="0.25" style="font-family:'Liberation Sans', sans-serif">27”</text>
<line x1="633.10" y1="535.20" x2="680.50" y2="535.20" stroke="#000" stroke-width="1.0"/>
<line x1="684.00" y1="535.20" x2="711.60" y2="535.20" stroke="#000" stroke-width="1.0" stroke-dasharray="7 2 1.5 2"/>
<line x1="633.10" y1="553.20" x2="678.40" y2="553.20" stroke="#000" stroke-width="1.0"/>
<line x1="648.50" y1="516.70" x2="648.50" y2="530.00" stroke="#000" stroke-width="1.1"/>
<path d="M648.50 534.00L643.70 525.00L648.50 527.00L653.30 525.00Z" fill="#000"/>
<line x1="648.50" y1="572.40" x2="648.50" y2="559.00" stroke="#000" stroke-width="1.1"/>
<path d="M648.50 555.00L653.30 564.00L648.50 562.00L643.70 564.00Z" fill="#000"/>
<text transform="translate(625.96 550.25) scale(0.9921 1.0)" font-size="19.0" fill="#000" stroke="#000" stroke-width="0.25" style="font-family:'Liberation Sans', sans-serif">3 <tspan font-size="10.83" dy="-6.27">1</tspan><tspan font-size="18.43" dy="6.27">/</tspan><tspan font-size="10.83" dy="-0.19">2</tspan><tspan font-size="19.0" dy="0.19">”</tspan></text>
<line x1="689.80" y1="565.50" x2="689.80" y2="611.00" stroke="#444" stroke-width="1.1"/>
<line x1="697.30" y1="561.00" x2="697.30" y2="611.00" stroke="#000" stroke-width="1.0"/>
<line x1="666.70" y1="595.70" x2="684.20" y2="595.70" stroke="#000" stroke-width="1.1"/>
<path d="M688.20 595.70L679.20 600.50L681.20 595.70L679.20 590.90Z" fill="#000"/>
<line x1="724.20" y1="595.70" x2="703.00" y2="595.70" stroke="#000" stroke-width="1.1"/>
<path d="M699.00 595.70L708.00 590.90L706.00 595.70L708.00 600.50Z" fill="#000"/>
<text transform="translate(664.95 632.25) scale(0.9663 1.0)" font-size="19.6" fill="#000" stroke="#000" stroke-width="0.25" style="font-family:'Liberation Sans', sans-serif">1 <tspan font-size="11.17" dy="-6.47">9</tspan><tspan font-size="19.01" dy="6.47">/</tspan><tspan font-size="11.17" dy="-0.78">16</tspan><tspan font-size="19.6" dy="0.78">”</tspan></text>
<line x1="749.20" y1="578.50" x2="707.88" y2="544.35" stroke="#000" stroke-width="1.2"/>
<path d="M704.80 541.80L714.80 543.83L710.20 546.26L708.68 551.23Z" fill="#000"/>
<text transform="translate(738.34 595.90) scale(0.9595 1.0)" font-size="19.6" fill="#000" stroke="#000" stroke-width="0.25" style="font-family:'Liberation Sans', sans-serif">GAS</text>
<text transform="translate(738.23 617.90) scale(0.9559 1.0)" font-size="19.6" fill="#000" stroke="#000" stroke-width="0.25" style="font-family:'Liberation Sans', sans-serif">INLET</text>
<line x1="901.60" y1="570.40" x2="881.17" y2="546.06" stroke="#000" stroke-width="1.2"/>
<path d="M878.60 543.00L886.29 546.33L882.14 547.21L880.55 551.16Z" fill="#000"/>
<text transform="translate(865.94 590.90) scale(0.9506 1.0)" font-size="19.8" fill="#000" stroke="#000" stroke-width="0.25" style="font-family:'Liberation Sans', sans-serif">ELECTRICAL</text>
<text transform="translate(866.24 613.30) scale(0.9500 1.0)" font-size="19.8" fill="#000" stroke="#000" stroke-width="0.25" style="font-family:'Liberation Sans', sans-serif">INLET</text>
</g>
</svg>
</body>
</html>
